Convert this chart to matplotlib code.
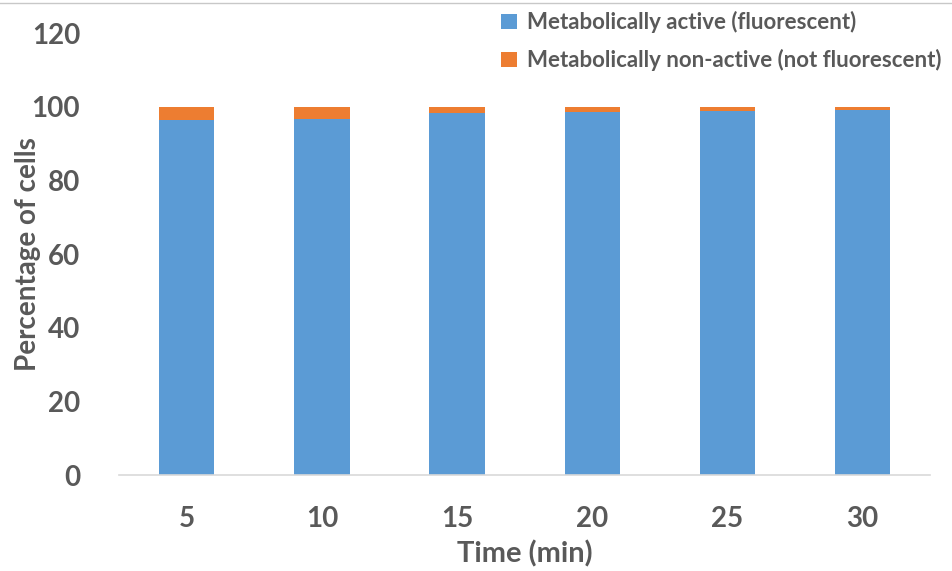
import matplotlib.pyplot as plt
from matplotlib.lines import Line2D
import numpy as np

# datos
tiempos = ["5", "10", "15", "20", "25", "30"]
activas = [96.5, 96.8, 98.2, 98.5, 98.8, 99.2]
no_activas = [3.5, 3.2, 1.8, 1.5, 1.2, 0.8]

azul = "#5b9bd5"
naranja = "#ed7d31"
gris = "#595959"

plt.rcParams["font.family"] = ["Lato", "DejaVu Sans"]
plt.rcParams["font.weight"] = "bold"

fig = plt.figure(figsize=(9.53, 5.71), dpi=100)
ax = fig.add_axes([0.125, 0.168, 0.851, 0.774])

x = np.arange(len(tiempos))
ax.bar(x, activas, width=0.41, color=azul, label="Metabolically active (fluorescent)")
ax.bar(x, no_activas, bottom=activas, width=0.41, color=naranja,
       label="Metabolically non-active (not fluorescent)")

ax.set_xlim(-0.5, len(tiempos) - 0.5)
ax.set_ylim(0, 120)
ax.set_yticks(range(0, 121, 20))
ax.set_xticks(x)
ax.set_xticklabels(tiempos)
ax.tick_params(axis="both", length=0, labelsize=20, colors=gris)
ax.tick_params(axis="x", pad=22)
ax.tick_params(axis="y", pad=28)

for s in ["top", "right", "left"]:
    ax.spines[s].set_visible(False)
ax.spines["bottom"].set_color("#d9d9d9")
ax.spines["bottom"].set_linewidth(1.2)

ax.set_xlabel("Time (min)", fontsize=21, color=gris, fontweight="bold", labelpad=6)
ax.set_ylabel("Percentage of cells", fontsize=20, color=gris, fontweight="bold", labelpad=-7)

leg = fig.legend(loc="upper left", bbox_to_anchor=(0.505, 1.015), frameon=False,
                 fontsize=16, handlelength=0.7, handleheight=0.7,
                 handletextpad=0.45, labelspacing=0.7)
for t in leg.get_texts():
    t.set_color(gris)

# línea gris superior del recorte
fig.add_artist(Line2D([0, 1], [0.995, 0.995], color="#c8c8c8", linewidth=1))

fig.savefig("out.png", dpi=100)
